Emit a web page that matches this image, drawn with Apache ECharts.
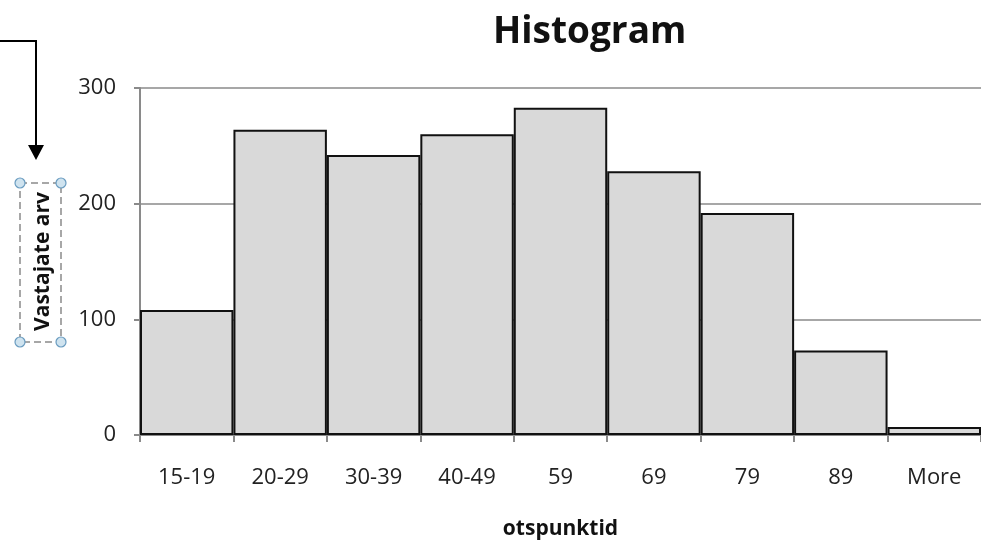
<!DOCTYPE html>
<html>
<head>
<meta charset="utf-8">
<script src="https://cdn.jsdelivr.net/npm/echarts@6/dist/echarts.min.js"></script>
<style>html,body{margin:0;padding:0;background:#fff}#c{width:981px;height:545px}</style>
</head>
<body>
<div id="c"></div>
<script>
const categories = ['15-19', '20-29', '30-39', '40-49', '59', '69', '79', '89', 'More'];
const counts = [108, 264, 242, 260, 283, 228, 192, 73, 7];
const yTicks = [0, 100, 200, 300];

const chart = echarts.init(document.getElementById('c'));
const font = '"Open Sans", sans-serif';
chart.setOption({
  animation: false,
  backgroundColor: '#fff',
  title: {
    text: 'Histogram',
    left: 488,
    top: 9,
    textStyle: { fontFamily: font, fontWeight: 'bold', fontSize: 37, color: '#111' }
  },
  grid: { left: 140, right: 0, top: 88, bottom: 108, containLabel: false },
  xAxis: {
    type: 'category',
    data: categories,
    name: 'otspunktid',
    nameLocation: 'middle',
    nameGap: 84,
    nameTextStyle: { fontFamily: font, fontWeight: 'bold', fontSize: 21, color: '#111' },
    axisLine: { lineStyle: { color: '#8a8a8a', width: 2 } },
    axisTick: { show: true, length: 7, lineStyle: { color: '#8a8a8a', width: 2 } },
    axisLabel: { fontFamily: font, fontSize: 22, color: '#222', margin: 32 }
  },
  yAxis: {
    type: 'value',
    min: yTicks[0],
    max: yTicks[yTicks.length - 1],
    interval: 100,
    name: 'Vastajate arv',
    nameLocation: 'middle',
    nameRotate: 90,
    nameGap: 86,
    nameTextStyle: { fontFamily: font, fontWeight: 'bold', fontSize: 21, color: '#111' },
    axisLine: { show: true, lineStyle: { color: '#8a8a8a', width: 2 } },
    axisTick: { show: true, length: 6, lineStyle: { color: '#8a8a8a', width: 2 } },
    splitLine: { show: true, lineStyle: { color: '#8a8a8a', width: 1.5 } },
    axisLabel: { fontFamily: font, fontSize: 22, color: '#222', margin: 24 }
  },
  series: [{
    type: 'bar',
    data: counts,
    barCategoryGap: 0,
    itemStyle: { color: '#d9d9d9', borderColor: '#111', borderWidth: 2 }
  }],
  graphic: [
    { type: 'polyline', shape: { points: [[0, 41], [36, 41], [36, 146]] }, style: { stroke: '#000', lineWidth: 2, fill: null } },
    { type: 'polygon', shape: { points: [[28, 145], [44, 145], [36, 160]] }, style: { fill: '#000' } },
    { type: 'rect', shape: { x: 20, y: 183, width: 41, height: 159 }, style: { fill: null, stroke: '#8a8a8a', lineWidth: 1.5, lineDash: [7, 4] } },
    { type: 'circle', shape: { cx: 20, cy: 183, r: 5 }, style: { fill: '#cfe3ef', stroke: '#6a9cc0', lineWidth: 1.2 } },
    { type: 'circle', shape: { cx: 61, cy: 183, r: 5 }, style: { fill: '#cfe3ef', stroke: '#6a9cc0', lineWidth: 1.2 } },
    { type: 'circle', shape: { cx: 20, cy: 342, r: 5 }, style: { fill: '#cfe3ef', stroke: '#6a9cc0', lineWidth: 1.2 } },
    { type: 'circle', shape: { cx: 61, cy: 342, r: 5 }, style: { fill: '#cfe3ef', stroke: '#6a9cc0', lineWidth: 1.2 } }
  ]
});
</script>
</body>
</html>
